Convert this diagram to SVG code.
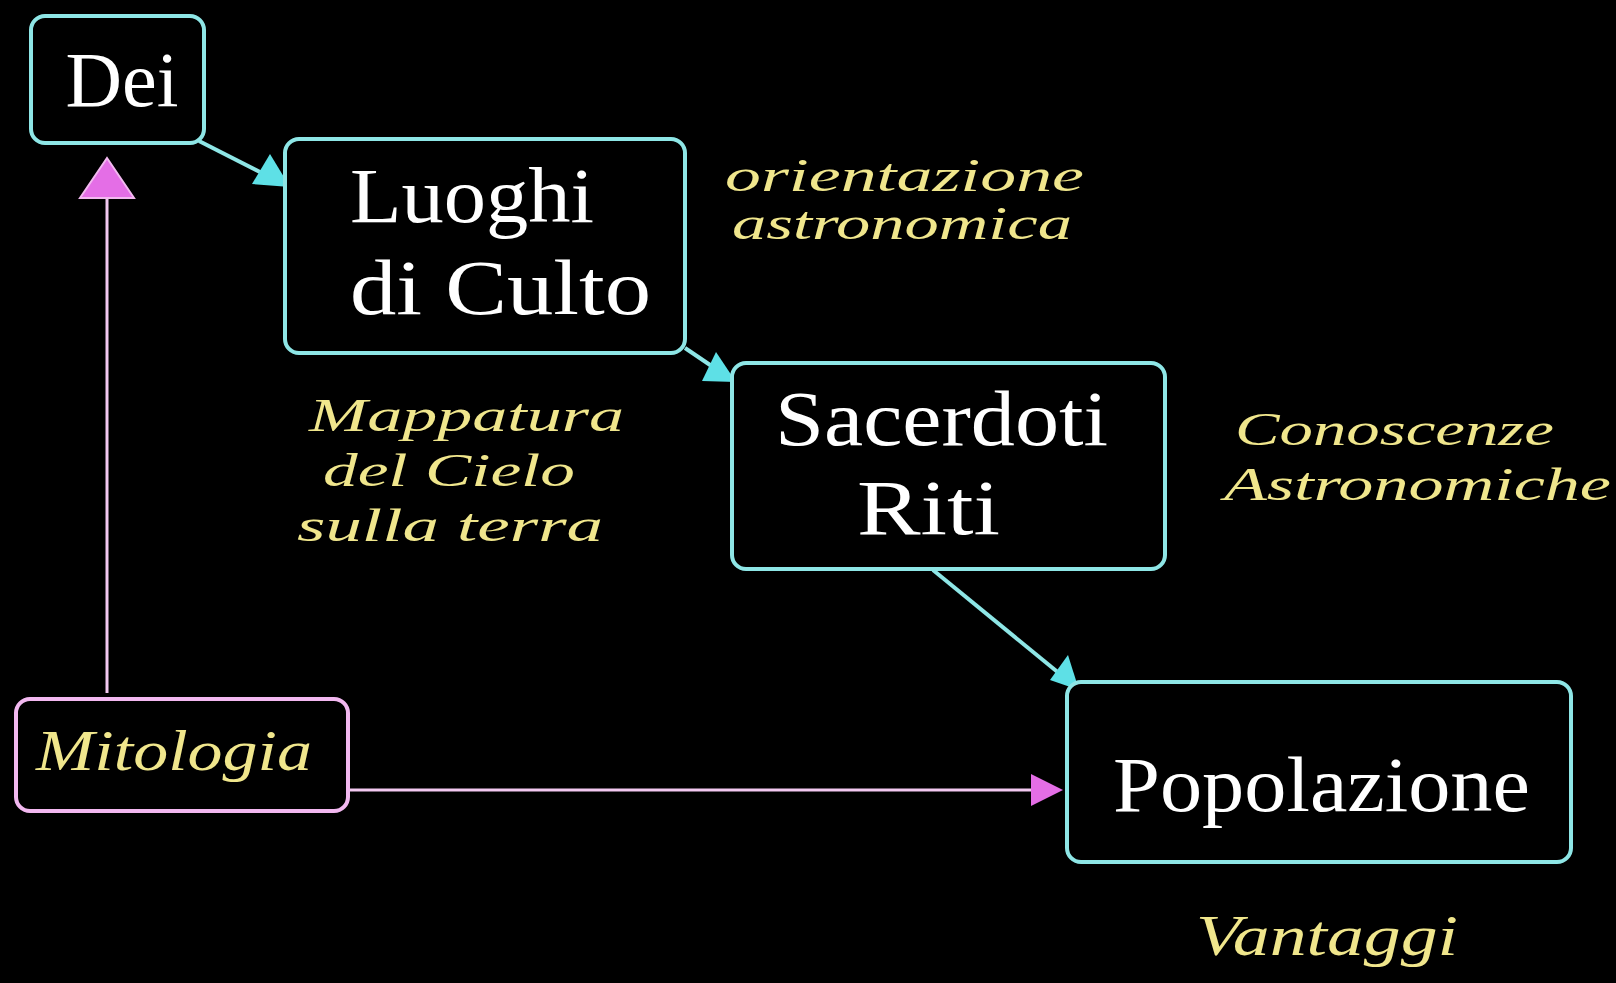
<svg xmlns="http://www.w3.org/2000/svg" width="1616" height="983" viewBox="0 0 1616 983">
<defs>
<style>
.box{fill:#000;stroke:#8ee6e6;stroke-width:4}
.mbox{fill:#000;stroke:#f2b8f0;stroke-width:4}
.t{font-family:"Liberation Serif",serif;fill:#fff;font-size:78px}
.y{font-family:"Liberation Serif",serif;font-style:italic;fill:#f0e68c;font-size:56px}
.s{font-size:46px}
.c{stroke:#8ee6e6;stroke-width:4;fill:none}
.p{stroke:#f2c8f0;stroke-width:3;fill:none}
</style>
</defs>
<rect width="1616" height="983" fill="#000"/>
<g id="connectors">
<line class="c" x1="199" y1="141" x2="266" y2="175"/>
<polygon points="290,187 252,184 270,154" fill="#5ee0e6"/>
<line class="c" x1="685" y1="348" x2="716" y2="369"/>
<polygon points="736,382 702,381 716,352" fill="#5ee0e6"/>
<line class="c" x1="933" y1="570" x2="1060" y2="674"/>
<polygon points="1079,690 1050,680 1068,655" fill="#5ee0e6"/>
<line class="p" x1="107" y1="693" x2="107" y2="196"/>
<polygon points="107,158 134,198 80,198" fill="#e46ee6" stroke="#f2b8f0" stroke-width="2"/>
<line class="p" x1="350" y1="790" x2="1035" y2="790"/>
<polygon points="1063,790 1031,774 1031,806" fill="#e46ee6"/>
</g>
<g id="dei">
<rect class="box" x="31" y="16" width="173" height="127" rx="14"/>
<text class="t" x="122" y="106" text-anchor="middle" textLength="113" lengthAdjust="spacingAndGlyphs">Dei</text>
</g>
<g id="luoghi">
<rect class="box" x="285" y="139" width="400" height="214" rx="14"/>
<text class="t" x="350" y="222" textLength="244" lengthAdjust="spacingAndGlyphs">Luoghi</text>
<text class="t" x="350" y="314" textLength="301" lengthAdjust="spacingAndGlyphs">di Culto</text>
</g>
<g id="sacerdoti">
<rect class="box" x="732" y="363" width="433" height="206" rx="14"/>
<text class="t" x="775" y="445" textLength="333" lengthAdjust="spacingAndGlyphs">Sacerdoti</text>
<text class="t" x="857" y="534" textLength="143" lengthAdjust="spacingAndGlyphs">Riti</text>
</g>
<g id="popolazione">
<rect class="box" x="1067" y="682" width="504" height="180" rx="14"/>
<text class="t" x="1113" y="811" textLength="417" lengthAdjust="spacingAndGlyphs">Popolazione</text>
</g>
<g id="mitologia">
<rect class="mbox" x="16" y="699" width="332" height="112" rx="14"/>
<text class="y" x="36" y="770" textLength="276" lengthAdjust="spacingAndGlyphs">Mitologia</text>
</g>
<g id="labels">
<text class="y s" x="725" y="191" textLength="359" lengthAdjust="spacingAndGlyphs">orientazione</text>
<text class="y s" x="732" y="239" textLength="340" lengthAdjust="spacingAndGlyphs">astronomica</text>
<text class="y s" x="309" y="431" textLength="315" lengthAdjust="spacingAndGlyphs">Mappatura</text>
<text class="y s" x="323" y="486" textLength="252" lengthAdjust="spacingAndGlyphs">del Cielo</text>
<text class="y s" x="297" y="541" textLength="306" lengthAdjust="spacingAndGlyphs">sulla terra</text>
<text class="y s" x="1235" y="445" textLength="319" lengthAdjust="spacingAndGlyphs">Conoscenze</text>
<text class="y s" x="1224" y="500" textLength="387" lengthAdjust="spacingAndGlyphs">Astronomiche</text>
<text class="y" x="1196" y="955" textLength="262" lengthAdjust="spacingAndGlyphs">Vantaggi</text>
</g>
</svg>
